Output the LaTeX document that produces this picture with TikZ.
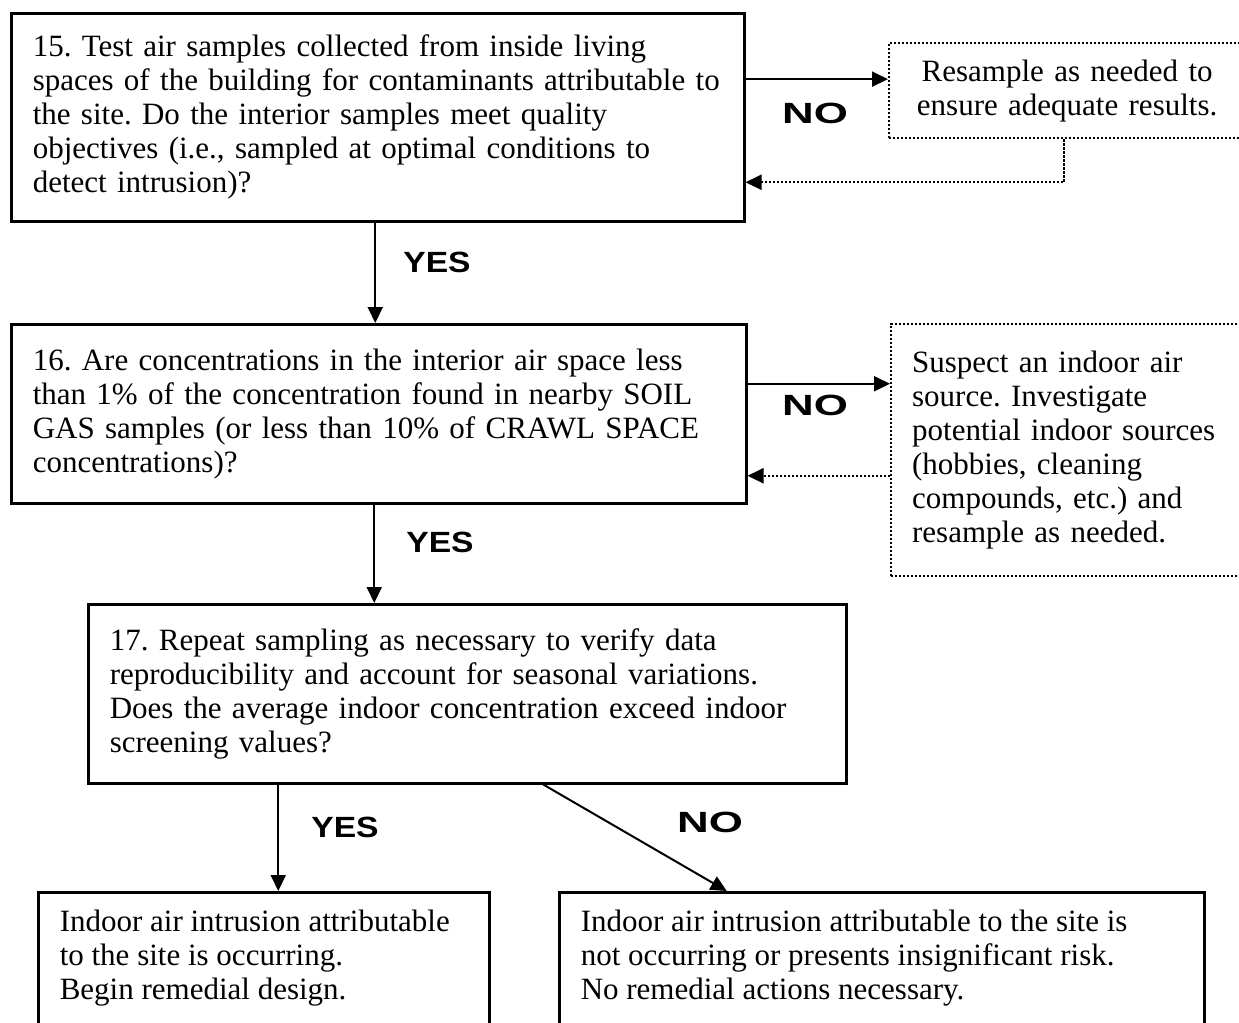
\documentclass[tikz,border=0pt]{standalone}
\usepackage{fontspec}
\setmainfont{Liberation Serif}
\newfontfamily\lblfont{Liberation Sans}
\usepackage{graphicx}
\usetikzlibrary{positioning,arrows.meta}
\frenchspacing

\begin{document}
\begin{tikzpicture}[x=0.4pt,y=-0.4pt,
  font=\fontsize{12.4}{13.6}\selectfont,
  box/.style={draw,line width=1pt,rectangle,anchor=north west,align=left,inner xsep=8.6pt,inner ysep=0pt},
  dotbox/.style={draw,line width=0.9pt,dash pattern=on 0.9pt off 0.7pt,rectangle,anchor=north west,inner xsep=8.4pt,inner ysep=0pt},
  lbl/.style={font=\lblfont\bfseries\fontsize{11.7}{12}\selectfont},
  arr/.style={line width=0.8pt,-{Triangle[length=6.4pt,width=6pt]}},
  dotarr/.style={line width=0.9pt,dash pattern=on 0.9pt off 0.7pt,-{Triangle[length=6.4pt,width=6pt]}}]
\useasboundingbox (0,0) rectangle (1239,1022);

\node[box,text width=276pt,minimum width=293.2pt,minimum height=83.2pt] (n15) at (10,12)
  {15. Test air samples collected from inside living\\
   spaces of the building for contaminants attributable to\\
   the site. Do the interior samples meet quality\\
   objectives (i.e., sampled at optimal conditions to\\
   detect intrusion)?};
\node[box,text width=276.8pt,minimum width=294pt,minimum height=71.6pt] (n16) at (10,323)
  {16. Are concentrations in the interior air space less\\
   than 1\% of the concentration found in nearby SOIL\\
   GAS samples (or less than 10\% of CRAWL SPACE\\
   concentrations)?};
\node[box,text width=286pt,minimum width=303.2pt,minimum height=71.6pt] (n17) at (87,603)
  {17. Repeat sampling as necessary to verify data\\
   reproducibility and account for seasonal variations.\\
   Does the average indoor concentration exceed indoor\\
   screening values?};

\node[dotbox,align=center,text width=125.6pt,minimum width=142.4pt,minimum height=38pt] (nres) at (888,42)
  {Resample as needed to\\ensure adequate results.};
\node[dotbox,align=left,text width=125.2pt,minimum width=142pt,minimum height=100.8pt] (nsus) at (890,323)
  {Suspect an indoor air\\
   source. Investigate\\
   potential indoor sources\\
   (hobbies, cleaning\\
   compounds, etc.) and\\
   resample as needed.};

\node[box,inner ysep=7pt] (nyes) at (37,891)
  {\parbox[t][80pt][t]{163.2pt}{Indoor air intrusion attributable\\
   to the site is occurring.\\
   Begin remedial design.}};
\node[box,inner ysep=7pt] (nno) at (558,891)
  {\parbox[t][80pt][t]{240.8pt}{Indoor air intrusion attributable to the site is\\
   not occurring or presents insignificant risk.\\
   No remedial actions necessary.}};

% labels
\node[lbl] (l15no) at (815,113) {\scalebox{1.5}[1]{NO}};
\node[lbl] (l16no) at (815,405) {\scalebox{1.5}[1]{NO}};
\node[lbl] (l15yes) at (437,262) {\scalebox{1.15}[1]{YES}};
\node[lbl] (l16yes) at (440,542) {\scalebox{1.15}[1]{YES}};
\node[lbl] (l17yes) at (345,827) {\scalebox{1.15}[1]{YES}};
\node[lbl] (l17no) at (710,822) {\scalebox{1.5}[1]{NO}};

% connectors
\coordinate (t15) at ([yshift=4.6pt]nres.west);
\coordinate (t16) at ([yshift=12pt]n16.east);
\coordinate (r16) at ([yshift=-24.8pt]n16.east);
\coordinate (t17) at ([xshift=5.8pt]nyes.north);
\draw[arr] ([xshift=-1pt]n15.south) -- ([xshift=-1pt]n15.south |- n16.north);
\draw[arr] ([xshift=-1.8pt]n16.south) -- ([xshift=-1.8pt]n16.south |- n17.north);
\draw[arr] (n15.east |- t15) -- (t15);
\draw[dotarr] ([xshift=-1.2pt]nres.south) |- ([yshift=-26pt]n15.east);
\draw[arr] (t16) -- (nsus.west |- t16);
\draw[dotarr] (nsus.west |- r16) -- (r16);
\draw[arr] (n17.south -| t17) -- (t17);
\draw[arr] ([xshift=30.4pt]n17.south) -- ([xshift=-62pt]nno.north);

\end{tikzpicture}
\end{document}
